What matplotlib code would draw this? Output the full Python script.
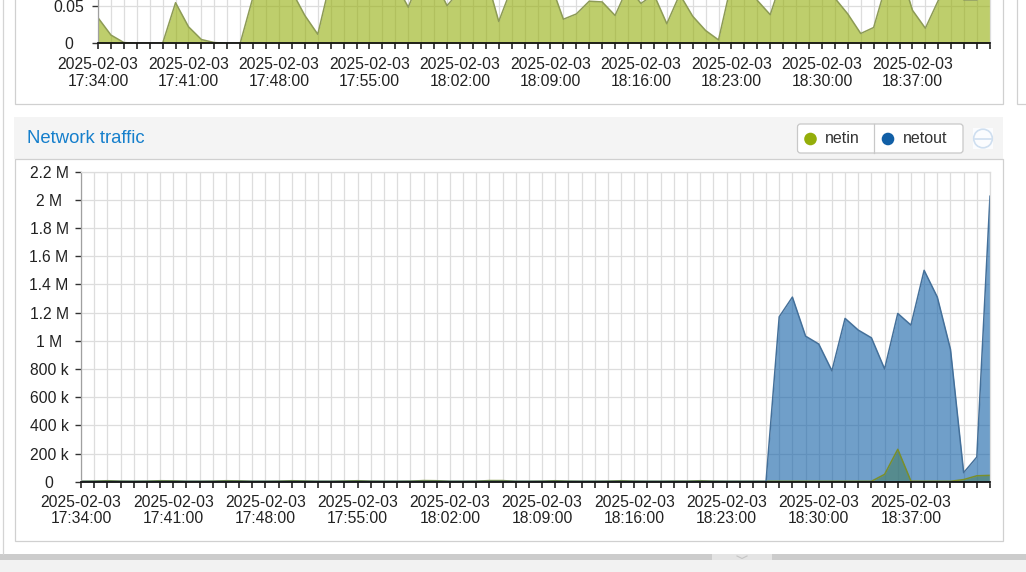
import matplotlib
matplotlib.use("Agg")
import matplotlib.pyplot as plt
from matplotlib.patches import Rectangle, FancyBboxPatch, Circle

plt.rcParams["font.family"] = ["Liberation Sans", "DejaVu Sans"]

W, H = 1026, 572
DPI = 100

# ---- data ----
date = "2025-02-03"
tick_times = ["17:34:00", "17:41:00", "17:48:00", "17:55:00", "18:02:00",
              "18:09:00", "18:16:00", "18:23:00", "18:30:00", "18:37:00"]
label_every = 7

# upper panel (only its bottom strip is visible)
cpu = [0.034, 0.011, 0.001, 0.0, 0.0, 0.0, 0.054, 0.022, 0.005, 0.001,
       0.0, 0.0, 0.062, 0.09, 0.10, 0.069, 0.037, 0.012, 0.084, 0.10,
       0.09, 0.10, 0.11, 0.08, 0.048, 0.09, 0.085, 0.05, 0.07, 0.10,
       0.09, 0.029, 0.074, 0.10, 0.095, 0.08, 0.032, 0.039, 0.056, 0.055,
       0.037, 0.075, 0.053, 0.065, 0.026, 0.065, 0.036, 0.017, 0.0045, 0.08,
       0.10, 0.057, 0.038, 0.09, 0.10, 0.11, 0.09, 0.06, 0.039, 0.013,
       0.021, 0.08, 0.10, 0.044, 0.02, 0.057, 0.07, 0.0575, 0.0575, 0.08]

netin = [3e3, 4e3, 7e3, 4e3, 3e3, 4e3, 7e3, 6e3, 3e3, 3e3,
         4e3, 7e3, 6e3, 3e3, 3e3, 4e3, 7e3, 5e3, 3e3, 3e3,
         5e3, 7e3, 4e3, 3e3, 3e3, 4e3, 8e3, 7e3, 3e3, 3e3,
         4e3, 8e3, 8e3, 3e3, 3e3, 4e3, 7e3, 4e3, 3e3, 3e3,
         4e3, 7e3, 4e3, 3e3, 3e3, 4e3, 4e3, 7e3, 4e3, 3e3,
         3e3, 3e3, 3e3, 3e3, 3e3, 3e3, 3e3, 3e3, 3e3, 3e3,
         3e3, 52e3, 230e3, 4e3, 3e3, 3e3, 3e3, 15e3, 42e3, 45e3]

netout = [2e3, 2e3, 2e3, 2e3, 2e3, 2e3, 2e3, 2e3, 2e3, 2e3,
          2e3, 2e3, 2e3, 2e3, 2e3, 2e3, 2e3, 2e3, 2e3, 2e3,
          2e3, 2e3, 2e3, 2e3, 2e3, 2e3, 2e3, 2e3, 2e3, 2e3,
          2e3, 2e3, 2e3, 2e3, 2e3, 2e3, 2e3, 2e3, 2e3, 2e3,
          2e3, 2e3, 2e3, 2e3, 2e3, 2e3, 2e3, 2e3, 2e3, 2e3,
          2e3, 2e3, 2e3, 1.17e6, 1.31e6, 1.033e6, 0.977e6, 0.787e6, 1.159e6, 1.076e6,
          1.021e6, 0.80e6, 1.194e6, 1.111e6, 1.50e6, 1.31e6, 0.939e6, 64e3, 175e3, 2.026e6]

net_yticks = [0, 200e3, 400e3, 600e3, 800e3, 1.0e6, 1.2e6, 1.4e6, 1.6e6, 1.8e6, 2.0e6, 2.2e6]
net_ylabels = ["0", "200 k", "400 k", "600 k", "800 k", "1 M", "1.2 M", "1.4 M",
               "1.6 M", "1.8 M", "2 M", "2.2 M"]
cpu_yticks = [0, 0.05]
cpu_ylabels = ["0", "0.05"]

series_names = ["netin", "netout"]
series_colors = ["#94ae0a", "#115fa6"]
series_edges = ["#7a8f2a", "#44709a"]

TICK_FS = 11.3


def px_axes(fig, left, top, right, bottom):
    return fig.add_axes([left / W, 1 - bottom / H, (right - left) / W, (bottom - top) / H])


def style_chart(ax, n, yticks, ylabels, ylabel_pad, xlabel_pad, spacing):
    ax.set_facecolor("white")
    ax.set_xlim(0, n - 1)
    ax.set_xticks(range(n))
    labels = [""] * n
    for k, t in enumerate(tick_times):
        labels[k * label_every] = f"{date}\n{t}"
    ax.set_xticklabels(labels, fontsize=TICK_FS, linespacing=spacing, color="#222222")
    ax.set_yticks(yticks)
    ax.set_yticklabels(ylabels, fontsize=TICK_FS, color="#222222", ha="center")
    ax.grid(True, color="#dddddd", lw=0.9)
    ax.set_axisbelow(True)
    ax.tick_params(axis="x", length=4, width=1.1, color="#111111", pad=xlabel_pad)
    ax.tick_params(axis="y", length=4, width=1.0, color="#333333", pad=ylabel_pad)
    ax.spines["bottom"].set_color("#111111")
    ax.spines["bottom"].set_linewidth(1.3)
    ax.spines["left"].set_color("#a0a0a0")
    ax.spines["left"].set_linewidth(0.9)
    for s in ("top", "right"):
        ax.spines[s].set_color("#dddddd")
        ax.spines[s].set_linewidth(0.9)


fig = plt.figure(figsize=(W / DPI, H / DPI), dpi=DPI, facecolor="white")

# ---- page background / panels ----
bg = fig.add_axes([0, 0, 1, 1], zorder=0)
bg.set_xlim(0, W)
bg.set_ylim(H, 0)
bg.axis("off")

bg.add_patch(Rectangle((0, 560), W, 20, fc="#f2f2f2", ec="none"))
bg.add_patch(Rectangle((0, 554), W, 6, fc="#cccccc", ec="none"))
bg.add_patch(Rectangle((712, 554), 60, 6, fc="#e4e4e4", ec="none"))
bg.plot([737, 742, 747], [556, 558.5, 556], color="#c4c4c4", lw=0.8)
bg.plot([2.5, 2.5], [0, 554], color="#d4d4d4", lw=0.9)

# upper panel box and the next panel on the right
bg.add_patch(Rectangle((14.5, -10), 988, 113.5, fc="white", ec="#d0d0d0", lw=0.9))
bg.add_patch(Rectangle((1016.5, -10), 40, 114, fc="white", ec="#d0d0d0", lw=0.9))

# lower panel header and body
bg.add_patch(Rectangle((14, 117), 989, 42, fc="#f4f4f4", ec="none"))
bg.add_patch(Rectangle((14.5, 159), 988, 382, fc="white", ec="#d0d0d0", lw=0.9))
bg.text(27, 138.5, "Network traffic", color="#157fcc", fontsize=13.3,
        ha="left", va="center")

# legend buttons
bg.add_patch(FancyBboxPatch((797.5, 124), 165.5, 29, boxstyle="round,pad=0,rounding_size=3",
                            fc="white", ec="#c8c8c8", lw=0.9))
bg.plot([874, 874], [124, 153], color="#c8c8c8", lw=0.9)
legend_x = [810.5, 888]
for name, col, cx in zip(series_names, series_colors, legend_x):
    bg.add_patch(Circle((cx, 139), 6.3, fc=col, ec="none"))
    bg.text(cx + 14.5, 138.5, name, fontsize=11.5, color="#333333", ha="left", va="center")

# collapse icon
bg.add_patch(Rectangle((973, 128), 20, 21, fc="#fbfcfe", ec="none"))
bg.add_patch(Circle((983, 138.5), 9.3, fc="none", ec="#cfdff0", lw=1.2))
bg.plot([975, 991], [138.5, 138.5], color="#cfdff0", lw=1.2)

# ---- upper chart (cropped) ----
n = len(cpu)
x = list(range(n))
ax_top = px_axes(fig, 98, -69.5, 990, 43.3)
ax_top.set_zorder(1)
ax_top.set_ylim(0, 0.15)
ax_top.fill_between(x, cpu, color="#94ae0a", alpha=0.6, lw=0)
ax_top.plot(x, cpu, color="#8d9b55", lw=1.1)
style_chart(ax_top, n, cpu_yticks, cpu_ylabels, ylabel_pad=17, xlabel_pad=6, spacing=1.12)

# ---- network traffic chart ----
ax = px_axes(fig, 81, 171.7, 990, 481.7)
ax.set_zorder(1)
ax.set_ylim(0, 2.2e6)
ax.fill_between(x, netin, color=series_colors[0], alpha=0.6, lw=0)
ax.plot(x, netin, color=series_edges[0], lw=1.1)
ax.fill_between(x, netout, color=series_colors[1], alpha=0.6, lw=0)
ax.plot(x, netout, color=series_edges[1], lw=1.1)
style_chart(ax, n, net_yticks, net_ylabels, ylabel_pad=19, xlabel_pad=5.5, spacing=1.08)

fig.savefig("out.png", dpi=DPI, facecolor="white")
